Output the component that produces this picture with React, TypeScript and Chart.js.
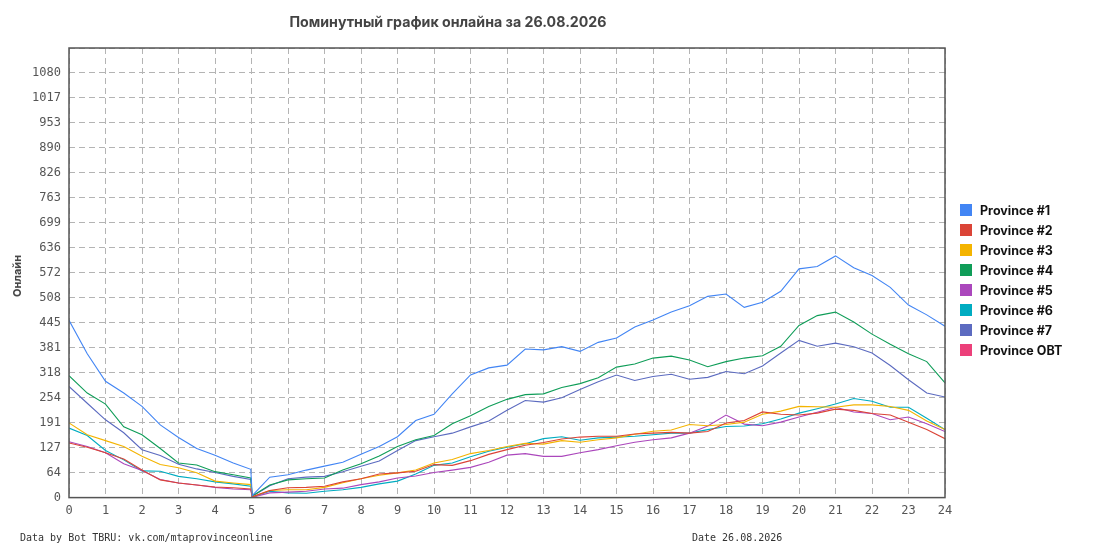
import React, { useEffect, useRef } from "react";
import Chart from "chart.js/auto";

// hours of the day (server restart just after 5:00)
const hours = [
  0, 0.5, 1, 1.5, 2, 2.5, 3, 3.5, 4, 4.5, 4.98, 5.02, 5.5, 6, 6.5, 7, 7.5, 8, 8.5, 9,
  9.5, 10, 10.5, 11, 11.5, 12, 12.5, 13, 13.5, 14, 14.5, 15, 15.5, 16, 16.5, 17, 17.5, 18, 18.5, 19,
  19.5, 20, 20.5, 21, 21.5, 22, 22.5, 23, 23.5, 24,
];

const province1 = [
  451, 366, 296, 266, 232, 185, 153, 125, 108, 88, 72, 5, 52, 58, 70, 80, 90, 110, 130, 155,
  196, 212, 264, 312, 330, 337, 378, 376, 384, 372, 395, 406, 434, 452, 472, 488, 512, 518, 484, 497,
  525, 582, 588, 615, 585, 565, 535, 490, 465, 436,
];
const province2 = [
  139, 128, 114, 98, 70, 45, 37, 32, 27, 25, 22, 2, 18, 25, 26, 29, 40, 48, 60, 63,
  67, 84, 82, 94, 110, 122, 133, 140, 149, 154, 156, 156, 162, 164, 166, 164, 168, 190, 196, 218,
  212, 210, 215, 225, 222, 214, 210, 192, 173, 150,
];
const province3 = [
  190, 160, 145, 130, 105, 84, 76, 63, 42, 37, 33, 2, 18, 20, 20, 26, 38, 48, 57, 63,
  70, 88, 97, 112, 120, 130, 138, 136, 145, 141, 147, 152, 161, 169, 172, 186, 183, 186, 192, 212,
  220, 232, 231, 230, 236, 236, 232, 222, 195, 173,
];
const province4 = [
  310, 266, 238, 180, 160, 125, 88, 83, 66, 58, 50, 4, 32, 45, 48, 50, 70, 86, 106, 130,
  147, 158, 188, 208, 232, 250, 262, 264, 280, 290, 305, 332, 340, 355, 360, 350, 333, 346, 355, 361,
  385, 438, 463, 472, 447, 416, 390, 366, 346, 292,
];
const province5 = [
  142, 130, 114, 86, 69, 46, 37, 32, 26, 22, 20, 1, 12, 14, 16, 22, 24, 33, 40, 50,
  55, 64, 70, 77, 90, 108, 112, 105, 105, 114, 122, 132, 141, 147, 152, 164, 182, 210, 187, 183,
  192, 205, 217, 230, 218, 214, 198, 205, 188, 168,
];
const province6 = [
  177, 158, 120, 96, 68, 67, 54, 48, 40, 35, 29, 1, 16, 12, 11, 16, 20, 26, 35, 42,
  60, 82, 88, 104, 118, 128, 137, 150, 155, 146, 152, 154, 156, 160, 164, 164, 173, 181, 182, 188,
  200, 215, 226, 238, 252, 245, 230, 230, 202, 173,
];
const province7 = [
  283, 240, 198, 165, 122, 107, 85, 73, 64, 54, 46, 3, 30, 48, 52, 54, 66, 80, 93, 120,
  145, 155, 164, 180, 195, 222, 247, 243, 254, 275, 295, 312, 298, 308, 314, 301, 306, 321, 315, 335,
  368, 400, 385, 393, 384, 368, 336, 300, 266, 256,
];
const provinceObt: number[] = [];

const seriesNames = [
  "Province #1", "Province #2", "Province #3", "Province #4",
  "Province #5", "Province #6", "Province #7", "Province OBT",
];
const seriesValues = [province1, province2, province3, province4, province5, province6, province7, provinceObt];
const seriesColors = ["#4285f4", "#db4437", "#f4b400", "#0f9d58", "#ab47bc", "#00acc1", "#5c6bc0", "#ec407a"];

const yMax = 1144;
const ySteps = 18;

const mono = "'DejaVu Sans Mono', monospace";
const sans = "Inter, 'Noto Sans', sans-serif";

const framePlugin = {
  id: "frame",
  afterDatasetsDraw(chart: any) {
    const { ctx, chartArea: a } = chart;
    ctx.save();
    ctx.strokeStyle = "#555";
    ctx.lineWidth = 1.5;
    ctx.strokeRect(a.left, a.top, a.right - a.left, a.bottom - a.top);
    ctx.restore();
  },
};

const OnlineChart = () => {
  const canvasRef = useRef<HTMLCanvasElement>(null);

  useEffect(() => {
    const ctx = canvasRef.current?.getContext("2d");
    if (!ctx) return;

    const chart = new Chart(ctx, {
      type: "line",
      data: {
        datasets: seriesValues.map((vals, i) => ({
          label: seriesNames[i],
          data: vals.map((v, j) => ({ x: hours[j], y: v })),
          borderColor: seriesColors[i],
          backgroundColor: seriesColors[i],
          borderWidth: 1.1,
          pointRadius: 0,
          tension: 0,
        })),
      },
      options: {
        animation: false,
        responsive: true,
        maintainAspectRatio: false,
        layout: { padding: { left: 0, right: 150, top: 48, bottom: 26 } },
        plugins: {
          legend: { display: false },
          title: { display: false },
          tooltip: { enabled: false },
        },
        scales: {
          x: {
            type: "linear",
            min: 0,
            max: 24,
            ticks: { stepSize: 1, color: "#555", padding: 6, font: { family: mono, size: 12 } },
            grid: { color: "#b4b4b4", lineWidth: 1, drawTicks: false },
            border: { display: false, dash: [6, 4] },
          },
          y: {
            min: 0,
            max: yMax,
            afterFit: (scale: any) => {
              scale.width = 69;
            },
            ticks: {
              stepSize: yMax / ySteps,
              color: "#555",
              padding: 8,
              font: { family: mono, size: 12 },
              callback: (v: any) => (v >= yMax - 1 ? "" : String(Math.round(v))),
            },
            grid: { color: "#b4b4b4", lineWidth: 1, drawTicks: false },
            border: { display: false, dash: [6, 4] },
          },
        },
      },
      plugins: [framePlugin],
    });

    return () => {
      chart.destroy();
    };
  }, []);

  return (
    <div style={{ position: "absolute", left: 0, top: 0, width: 1095, height: 550, background: "#fff" }}>
      <canvas ref={canvasRef} />
      <div
        style={{
          position: "absolute", left: 248, top: 13, width: 400, textAlign: "center",
          font: `700 14.2px ${sans}`, color: "#444",
        }}
      >
        Поминутный график онлайна за 26.08.2026
      </div>
      <div
        style={{
          position: "absolute", left: 17, top: 276, transform: "translate(-50%, -50%) rotate(-90deg)",
          font: `700 11px ${sans}`, color: "#444", whiteSpace: "nowrap",
        }}
      >
        Онлайн
      </div>
      <div style={{ position: "absolute", left: 960, top: 200 }}>
        {seriesNames.map((name, i) => (
          <div key={name} style={{ display: "flex", alignItems: "center", height: 20 }}>
            <span style={{ width: 12, height: 12, background: seriesColors[i], marginRight: 8 }} />
            <span style={{ font: `700 12.5px ${sans}`, color: "#111", whiteSpace: "nowrap" }}>{name}</span>
          </div>
        ))}
      </div>
      <div style={{ position: "absolute", left: 20, top: 532, font: `10px ${mono}`, color: "#333", whiteSpace: "nowrap" }}>
        Data by Bot TBRU: vk.com/mtaprovinceonline
      </div>
      <div style={{ position: "absolute", left: 692, top: 532, font: `10px ${mono}`, color: "#333", whiteSpace: "nowrap" }}>
        Date 26.08.2026
      </div>
    </div>
  );
};

export default function App() {
  return <OnlineChart />;
}
